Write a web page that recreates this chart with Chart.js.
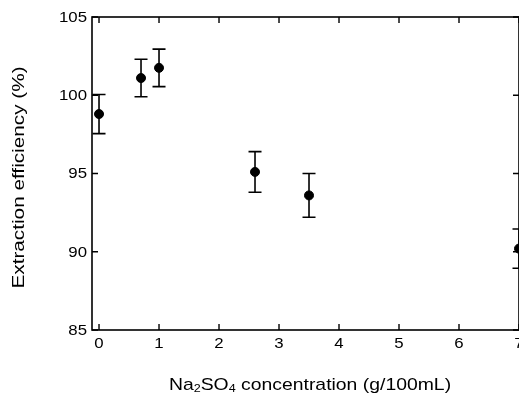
<!DOCTYPE html>
<html>
<head>
<meta charset="utf-8">
<script src="https://cdn.jsdelivr.net/npm/chart.js@4.4.0/dist/chart.umd.min.js"></script>
<style>
  body{margin:0;background:#fff;}
  #wrap{width:519px;height:394px;}
</style>
</head>
<body>
<div id="wrap"><canvas id="chart" width="519" height="394"></canvas></div>
<script>
// data
var conc = [0, 0.7, 1.0, 2.6, 3.5, 7.0];
var eff  = [98.8, 101.1, 101.75, 95.1, 93.6, 90.2];
var err  = [1.25, 1.2, 1.2, 1.3, 1.4, 1.25];
var xTicks = [0, 1, 2, 3, 4, 5, 6, 7];
var yTicks = [85, 90, 95, 100, 105];

var FONT = '"Liberation Sans", Arial, sans-serif';

// text stretched along its run, the scanned figure has wide lettering
function wideText(ctx, str, x, y, size, sx, align){
  ctx.save();
  ctx.font = size + 'px ' + FONT;
  var w = ctx.measureText(str).width * sx;
  var x0 = align === 'right' ? x - w : align === 'center' ? x - w / 2 : x;
  ctx.translate(x0, y);
  ctx.scale(sx, 1);
  ctx.textAlign = 'left';
  ctx.fillText(str, 0, 0);
  ctx.restore();
  return w;
}

// error bars, frame, inward ticks and axis text
var framePlugin = {
  id: 'frame',
  afterDatasetsDraw: function(chart){
    var ctx = chart.ctx, a = chart.chartArea;
    var xs = chart.scales.x, ys = chart.scales.y;
    ctx.save();
    ctx.strokeStyle = '#000';
    ctx.fillStyle = '#000';

    // error bars
    ctx.lineWidth = 1.6;
    for (var i = 0; i < conc.length; i++) {
      var px = xs.getPixelForValue(conc[i]);
      var top = ys.getPixelForValue(eff[i] + err[i]);
      var bot = ys.getPixelForValue(eff[i] - err[i]);
      ctx.beginPath();
      ctx.moveTo(px, top); ctx.lineTo(px, bot);
      ctx.moveTo(px - 6.5, top); ctx.lineTo(px + 6.5, top);
      ctx.moveTo(px - 6.5, bot); ctx.lineTo(px + 6.5, bot);
      ctx.stroke();
    }

    // frame
    ctx.lineWidth = 1.6;
    ctx.strokeRect(a.left, a.top, a.right - a.left, a.bottom - a.top);

    // ticks
    ctx.lineWidth = 1.4;
    ctx.beginPath();
    xTicks.forEach(function(v){
      var p = xs.getPixelForValue(v);
      ctx.moveTo(p, a.bottom); ctx.lineTo(p, a.bottom - 6);
      ctx.moveTo(p, a.top); ctx.lineTo(p, a.top + 6);
    });
    yTicks.forEach(function(v){
      var p = ys.getPixelForValue(v);
      ctx.moveTo(a.left, p); ctx.lineTo(a.left + 6, p);
      ctx.moveTo(a.right, p); ctx.lineTo(a.right - 6, p);
    });
    ctx.stroke();

    // tick labels
    ctx.textBaseline = 'middle';
    yTicks.forEach(function(v){
      wideText(ctx, String(v), a.left - 5, ys.getPixelForValue(v) + 1, 14, 1.2, 'right');
    });
    xTicks.forEach(function(v){
      wideText(ctx, String(v), xs.getPixelForValue(v), a.bottom + 14, 14, 1.2, 'center');
    });

    // y title
    ctx.save();
    ctx.translate(19, (a.top + a.bottom) / 2 + 4);
    ctx.rotate(-Math.PI / 2);
    wideText(ctx, 'Extraction efficiency (%)', 0, 0, 17, 1.22, 'center');
    ctx.restore();

    // x title with subscripts
    var parts = [['Na', 17, 0], ['2', 11, 4], ['SO', 17, 0], ['4', 11, 4], [' concentration (g/100mL)', 17, 0]];
    var sx = 1.14, total = 0;
    parts.forEach(function(p){ ctx.font = p[1] + 'px ' + FONT; total += ctx.measureText(p[0]).width * sx; });
    var x = 310 - total / 2, y = 385;
    parts.forEach(function(p){
      x += wideText(ctx, p[0], x, y + p[2], p[1], sx, 'left');
    });
    ctx.restore();
  }
};

new Chart(document.getElementById('chart'), {
  type: 'scatter',
  data: {
    datasets: [{
      data: conc.map(function(c, i){ return {x: c, y: eff[i]}; }),
      backgroundColor: '#000',
      borderColor: '#000',
      pointRadius: 4.5,
      pointHoverRadius: 4.5
    }]
  },
  options: {
    responsive: false,
    animation: false,
    clip: false,
    layout: {autoPadding: false, padding: {left: 92, top: 17, right: 0, bottom: 64}},
    plugins: {legend: {display: false}, tooltip: {enabled: false}},
    scales: {
      x: {type: 'linear', display: false, min: -0.117, max: 7},
      y: {type: 'linear', display: false, min: 85, max: 105}
    }
  },
  plugins: [framePlugin]
});
</script>
</body>
</html>
